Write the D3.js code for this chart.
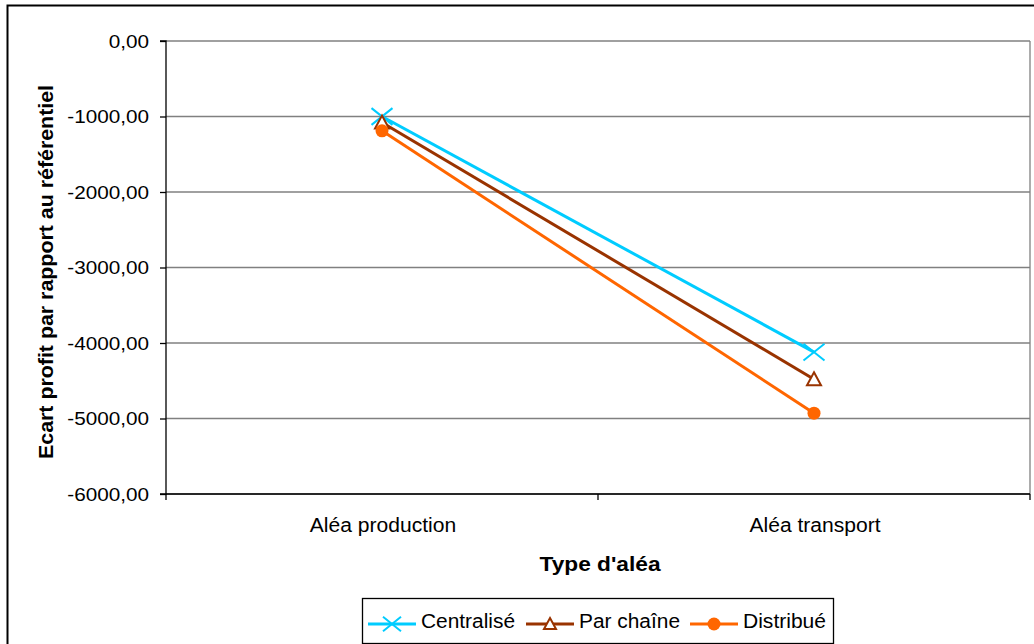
<!DOCTYPE html>
<html><head><meta charset="utf-8">
<script src="https://cdn.jsdelivr.net/npm/d3@7"></script>
<style>body{margin:0;background:#fff}svg{display:block;font-family:"Liberation Sans",Arial,sans-serif}</style>
</head><body><svg id="c" width="1034" height="644"></svg>
<script>
const categories = ["Aléa production", "Aléa transport"];
const seriesNames = ["Centralisé", "Par chaîne", "Distribué"];
const centralise = [-1000, -4120];
const parChaine = [-1080, -4480];
const distribue = [-1190, -4930];
const yTicks = [0, -1000, -2000, -3000, -4000, -5000, -6000];
const colors = ["#00CCFF", "#993300", "#FF6600"];
const markers = ["x", "triangle", "circle"];

const svg = d3.select("#c");
svg.append("rect").attr("x",7.5).attr("y",5.5).attr("width",1040).attr("height",660)
  .attr("fill","#fff").attr("stroke","#000").attr("stroke-width",2);

const L=166, R=1030, T=41, B=494;
const y = d3.scaleLinear().domain([-6000,0]).range([B,T]);
const x = d3.scaleBand().domain(categories).range([L,R]).paddingInner(0).paddingOuter(0);
const fmt = v => d3.format(".2f")(v).replace(".",",").replace("−","-");

// gridlines
svg.append("g").selectAll("line").data(yTicks).join("line")
  .attr("x1",L).attr("x2",R).attr("y1",d=>y(d)).attr("y2",d=>y(d))
  .attr("stroke","#808080").attr("stroke-width",1.3);
svg.append("line").attr("x1",R).attr("x2",R).attr("y1",T).attr("y2",B).attr("stroke","#808080").attr("stroke-width",1.3);

// y axis
const ya = svg.append("g").attr("transform",`translate(${L},0)`)
  .call(d3.axisLeft(y).tickValues(yTicks).tickFormat(fmt).tickSize(6).tickPadding(11));
ya.select(".domain").attr("stroke","#000").attr("stroke-width",1.3).attr("d",`M-6,${T}H0V${B}H-6`);
ya.selectAll(".tick line").attr("stroke","#000").attr("stroke-width",1.3);
ya.selectAll("text").attr("font-size",19).attr("fill","#000")
  .attr("font-family","Liberation Sans, Arial, sans-serif")
  .attr("textLength", function(){ return this.getComputedTextLength()*1.09; })
  .attr("lengthAdjust","spacingAndGlyphs");

// x axis
const xa = svg.append("g").attr("transform",`translate(0,${B})`);
xa.append("line").attr("x1",L).attr("x2",R).attr("stroke","#000").attr("stroke-width",1.3);
const bounds = [L, ...categories.map(c=>x(c)+x.bandwidth())];
xa.selectAll(".tk").data(bounds).join("line").attr("class","tk")
  .attr("x1",d=>d).attr("x2",d=>d).attr("y1",0).attr("y2",6).attr("stroke","#000").attr("stroke-width",1.3);
xa.selectAll("text").data(categories).join("text")
  .attr("x",d=>x(d)+x.bandwidth()/2+1).attr("y",38).attr("text-anchor","middle")
  .attr("font-size",19.5).text(d=>d)
  .attr("textLength", function(){ return this.getComputedTextLength()*1.08; })
  .attr("lengthAdjust","spacingAndGlyphs");

// titles
svg.append("text").attr("x",600).attr("y",571).attr("text-anchor","middle")
  .attr("font-size",19.5).attr("font-weight","bold").text("Type d'aléa")
  .attr("textLength",121).attr("lengthAdjust","spacingAndGlyphs");
svg.append("text").attr("transform","translate(53,272) rotate(-90)").attr("text-anchor","middle")
  .attr("font-size",20).attr("font-weight","bold").text("Ecart profit par rapport au référentiel")
  .attr("textLength",374).attr("lengthAdjust","spacingAndGlyphs");

// series
const data = [centralise, parChaine, distribue];
const cx = c => x(c)+x.bandwidth()/2;
function drawMarker(g, type, px, py, color, s){
  if(type==="x"){
    g.append("path").attr("d",`M${px-s},${py-s*0.8}L${px+s},${py+s*0.8}M${px-s},${py+s*0.8}L${px+s},${py-s*0.8}`)
      .attr("stroke",color).attr("stroke-width",2).attr("fill","none");
  } else if(type==="triangle"){
    g.append("path").attr("d",`M${px},${py-s}L${px+s},${py+s*0.85}L${px-s},${py+s*0.85}Z`)
      .attr("stroke",color).attr("stroke-width",2).attr("fill","#fff");
  } else {
    g.append("circle").attr("cx",px).attr("cy",py).attr("r",s).attr("fill",color);
  }
}
const sizes = [10.5, 7, 6.5];
const line = d3.line().x((d,i)=>cx(categories[i])).y(d=>y(d));
data.forEach((vals,k)=>{
  const g = svg.append("g");
  g.append("path").datum(vals).attr("d",line).attr("fill","none").attr("stroke",colors[k]).attr("stroke-width",3);
  vals.forEach((v,i)=>drawMarker(g, markers[k], cx(categories[i]), y(v), colors[k], sizes[k]));
});

// legend
const lg = svg.append("g");
lg.append("rect").attr("x",362.5).attr("y",598.5).attr("width",471).attr("height",45)
  .attr("fill","#fff").attr("stroke","#000").attr("stroke-width",1.3);
const lx = [368, 526, 690];
const lw = [94, 101, 83];
const lsz = [9, 6, 6.5];
seriesNames.forEach((n,k)=>{
  const g = lg.append("g");
  const ly = 624;
  g.append("line").attr("x1",lx[k]).attr("x2",lx[k]+48).attr("y1",ly).attr("y2",ly).attr("stroke",colors[k]).attr("stroke-width",3);
  drawMarker(g, markers[k], lx[k]+24, ly, colors[k], lsz[k]);
  g.append("text").attr("x",lx[k]+53).attr("y",ly+4).attr("font-size",20).text(n)
    .attr("textLength",lw[k]).attr("lengthAdjust","spacingAndGlyphs");
});
</script></body></html>
